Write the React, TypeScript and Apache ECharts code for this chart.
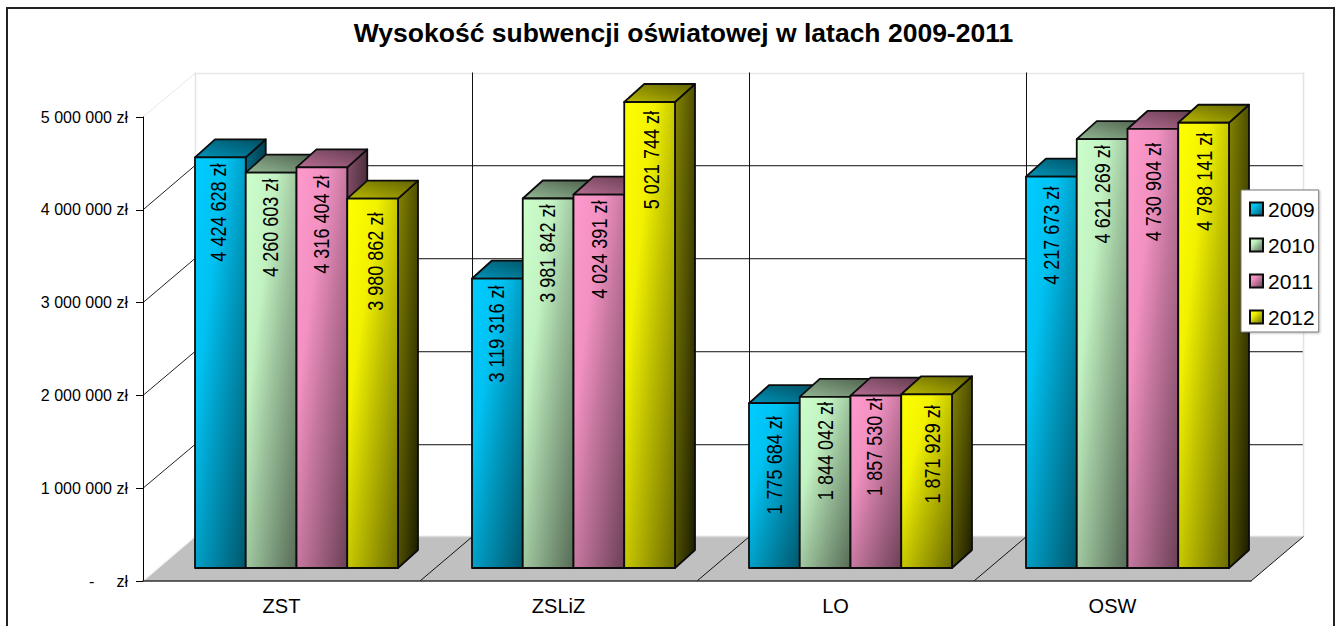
import React, { useEffect, useRef } from "react";
import * as echarts from "echarts";

const categories = ["ZST", "ZSLiZ", "LO", "OSW"];
const years = ["2009", "2010", "2011", "2012"];
const values2009 = [4424628, 3119316, 1775684, 4217673];
const values2010 = [4260603, 3981842, 1844042, 4621269];
const values2011 = [4316404, 4024391, 1857530, 4730904];
const values2012 = [3980862, 5021744, 1871929, 4798141];
const yTicks = [0, 1000000, 2000000, 3000000, 4000000, 5000000];
const baseColors = ["#00CCFF", "#CCFFCC", "#FF99CC", "#FFFF00"];
// where each rotated label's end sits below its bar's top (px), and its sideways nudge
const labelInset = [
  [6, 7, 13, 10],
  [6, 6, 5, 6],
  [8, 6, 2, 14],
  [14, 9, 11, 10],
];
const labelNudge = [
  [-2, -1, 0, 0],
  [-1, -1, 0, 0],
  [-1, 0, -2, 0],
  [3, 2, 6, 1],
];

const FONT = "'Liberation Sans', Arial, sans-serif";
const WALL_DX = 52;
const WALL_DY = -44.5;
const BAR_DX = 20;
const BAR_DY = -18;
const BAR_FRONT_Y = 13;
const BAR_SHARE = 50.75 / 277;
const EDGE = "#0c0c0c";

function shade(hex: string, f: number) {
  const n = parseInt(hex.slice(1), 16);
  const c = [(n >> 16) & 255, (n >> 8) & 255, n & 255].map((v) => Math.round(v * f));
  return `rgb(${c[0]},${c[1]},${c[2]})`;
}
function grad(x0: number, y0: number, x1: number, y1: number, a: string, b: string) {
  return new echarts.graphic.LinearGradient(x0, y0, x1, y1, [
    { offset: 0, color: a },
    { offset: 1, color: b },
  ]);
}
function frontFill(c: string) {
  return new echarts.graphic.LinearGradient(0, 0, 1, 1, [
    { offset: 0, color: c },
    { offset: 0.3, color: shade(c, 0.95) },
    { offset: 0.55, color: shade(c, 0.75) },
    { offset: 1, color: shade(c, 0.42) },
  ]);
}
function fmt(v: number) {
  return String(v).replace(/\B(?=(\d{3})+$)/g, " ") + " zł";
}
const crisp = (n: number) => Math.round(n) + 0.5;

function barSeries(name: string, values: number[], si: number) {
  const color = baseColors[si];
  return {
    type: "custom",
    name,
    z: 3,
    itemStyle: { color: frontFill(color), borderColor: EDGE, borderWidth: 1.5 },
    encode: { x: 0, y: 1 },
    data: values.map((v, i) => [i, v]),
    renderItem: (_p: any, api: any) => {
      const cat = api.value(0);
      const val = api.value(1);
      const band = api.size([1, 0])[0];
      const w = band * BAR_SHARE;
      const centre = api.coord([cat, 0]);
      const x = centre[0] - band / 2 + WALL_DX + si * w;
      const y0 = centre[1] - BAR_FRONT_Y;
      const y1 = y0 - (centre[1] - api.coord([cat, val])[1]);
      const border = { stroke: EDGE, lineWidth: 1.8, lineJoin: "round" };
      return {
        type: "group",
        children: [
          {
            type: "polygon",
            shape: { points: [[x + w, y1], [x + w + BAR_DX, y1 + BAR_DY], [x + w + BAR_DX, y0 + BAR_DY], [x + w, y0]] },
            style: { fill: grad(0, 0, 1, 1, shade(color, 0.52), shade(color, 0.1)), ...border },
          },
          {
            type: "polygon",
            shape: { points: [[x, y1], [x + BAR_DX, y1 + BAR_DY], [x + w + BAR_DX, y1 + BAR_DY], [x + w, y1]] },
            style: { fill: grad(0, 1, 1, 0, shade(color, 0.72), shade(color, 0.38)), ...border },
          },
          {
            type: "rect",
            shape: { x, y: y1, width: w, height: y0 - y1 },
            style: { fill: frontFill(color), ...border },
          },
          {
            type: "text",
            x: x + w / 2 + labelNudge[si][cat],
            y: y1 + labelInset[si][cat],
            rotation: Math.PI / 2,
            scaleX: 0.82,
            style: {
              text: fmt(val),
              fontFamily: FONT,
              fontSize: 22,
              fill: "#000",
              textAlign: "right",
              textVerticalAlign: "middle",
            },
          },
        ],
      };
    },
  };
}

const floorSeries = {
  type: "custom",
  name: "floor",
  z: -2,
  silent: true,
  encode: { x: 0, y: 1 },
  data: [[0, 0]],
  renderItem: (_p: any, api: any) => {
    const band = api.size([1, 0])[0];
    const a = api.coord([0, 0]);
    const b = api.coord([categories.length - 1, 0]);
    const l = a[0] - band / 2;
    const r = b[0] + band / 2;
    const y = a[1];
    return {
      type: "group",
      children: [
        {
          type: "polygon",
          shape: { points: [[l, y], [l + WALL_DX, y + WALL_DY], [r + WALL_DX, y + WALL_DY], [r, y]] },
          style: { fill: "#C0C0C0", stroke: "none" },
        },
        {
          type: "line",
          shape: { x1: l + WALL_DX, y1: y + WALL_DY, x2: r + WALL_DX, y2: y + WALL_DY },
          style: { stroke: "#dcdcdc", lineWidth: 1.5 },
        },
        {
          type: "line",
          shape: { x1: l + 1, y1: y - 1, x2: l + WALL_DX, y2: y + WALL_DY },
          style: { stroke: "#f4f4f4", lineWidth: 1.5 },
        },
      ],
    };
  },
};

const gridSeries = {
  type: "custom",
  name: "walls",
  z: -1,
  silent: true,
  encode: { x: 0, y: 1 },
  data: yTicks.slice(1).map((v) => [0, v]),
  renderItem: (_p: any, api: any) => {
    const band = api.size([1, 0])[0];
    const v = api.value(1);
    const p = api.coord([0, v]);
    const q = api.coord([categories.length - 1, v]);
    const l = p[0] - band / 2;
    const r = q[0] + band / 2;
    const y = p[1];
    const top = v === yTicks[yTicks.length - 1];
    const yb = crisp(y + WALL_DY);
    const children: any[] = [
      {
        type: "line",
        shape: { x1: l, y1: y, x2: l + WALL_DX, y2: yb },
        style: { stroke: top ? "#e8e8e8" : "#222", lineWidth: 1 },
      },
      {
        type: "line",
        shape: { x1: l + WALL_DX, y1: yb, x2: r + WALL_DX, y2: yb },
        style: { stroke: top ? "#e8e8e8" : "#444", lineWidth: top ? 1.5 : 1 },
      },
    ];
    if (!top) {
      children.push({
        type: "line",
        shape: { x1: l + WALL_DX, y1: yb + 1, x2: r + WALL_DX, y2: yb + 1 },
        style: { stroke: "#c8c8c8", lineWidth: 1 },
      });
    }
    return { type: "group", children };
  },
};

const dividerSeries = {
  type: "custom",
  name: "dividers",
  z: -1,
  silent: true,
  encode: { x: 0, y: 1 },
  data: [0, 1, 2, 3, 4].map((i) => [i, 0]),
  renderItem: (_p: any, api: any) => {
    const band = api.size([1, 0])[0];
    const step = api.value(0);
    const base = api.coord([0, 0]);
    const topY = api.coord([0, yTicks[yTicks.length - 1]])[1];
    const x = base[0] - band / 2 + step * band;
    const outer = step === 0 || step === categories.length;
    const vx = crisp(x + WALL_DX);
    const children: any[] = [
      {
        type: "line",
        shape: { x1: vx, y1: topY + WALL_DY, x2: vx, y2: base[1] + WALL_DY },
        style: { stroke: outer ? "#e4e4e4" : "#111", lineWidth: outer ? 1.5 : 1 },
      },
    ];
    if (step > 0) {
      children.push({
        type: "line",
        shape: { x1: x, y1: base[1], x2: vx, y2: base[1] + WALL_DY },
        style: { stroke: "#111", lineWidth: 1 },
      });
    }
    return { type: "group", children };
  },
};

export default function App() {
  const ref = useRef<HTMLDivElement>(null);
  useEffect(() => {
    document.documentElement.style.overflow = "hidden";
    document.body.style.margin = "0";
    const chart = echarts.init(ref.current!, undefined, { renderer: "svg" });
    chart.setOption({
      animation: false,
      backgroundColor: "#fff",
      title: {
        text: "Wysokość subwencji oświatowej w latach 2009-2011",
        left: 678.5,
        top: 14,
        textAlign: "center",
        textStyle: { fontFamily: FONT, fontSize: 26.5, fontWeight: "bold", color: "#000" },
      },
      grid: { left: 143, right: 89, top: 117, bottom: 45 },
      xAxis: {
        type: "category",
        data: categories,
        axisLine: { lineStyle: { color: "#333", width: 1.5 } },
        axisTick: { length: 7, lineStyle: { color: "#333" } },
        axisLabel: { fontFamily: FONT, fontSize: 20, color: "#000", margin: 15 },
        splitLine: { show: false },
      },
      yAxis: {
        type: "value",
        min: 0,
        max: 5000000,
        interval: 1000000,
        axisLine: { show: true, lineStyle: { color: "#000" } },
        axisTick: { show: true, length: 7, lineStyle: { color: "#000" } },
        axisLabel: {
          fontFamily: FONT,
          fontSize: 16,
          color: "#000",
          margin: 15,
          formatter: (v: number) => (v === 0 ? "-     zł" : fmt(v)),
        },
        splitLine: { show: false },
      },
      legend: {
        orient: "vertical",
        left: 1241,
        top: 190,
        padding: [8.5, 4, 4.5, 8],
        itemWidth: 13,
        itemHeight: 13,
        itemGap: 15,
        icon: "rect",
        backgroundColor: "#fff",
        borderColor: "#777",
        borderWidth: 1,
        shadowColor: "rgba(0,0,0,0.25)",
        shadowBlur: 2,
        shadowOffsetX: 1,
        shadowOffsetY: 1,
        z: 10,
        selectedMode: false,
        textStyle: { fontFamily: FONT, fontSize: 21, color: "#000", padding: [0, 0, 0, 0] },
        data: years,
      },
      graphic: [
        {
          type: "rect",
          silent: true,
          z: 20,
          shape: { x: 7, y: 8, width: 1327, height: 640 },
          style: { fill: "none", stroke: "#222", lineWidth: 2 },
        },
      ],
      series: [
        floorSeries,
        gridSeries,
        dividerSeries,
        barSeries(years[0], values2009, 0),
        barSeries(years[1], values2010, 1),
        barSeries(years[2], values2011, 2),
        barSeries(years[3], values2012, 3),
      ],
    });
    return () => chart.dispose();
  }, []);
  return <div ref={ref} style={{ width: 1340, height: 626 }} />;
}
